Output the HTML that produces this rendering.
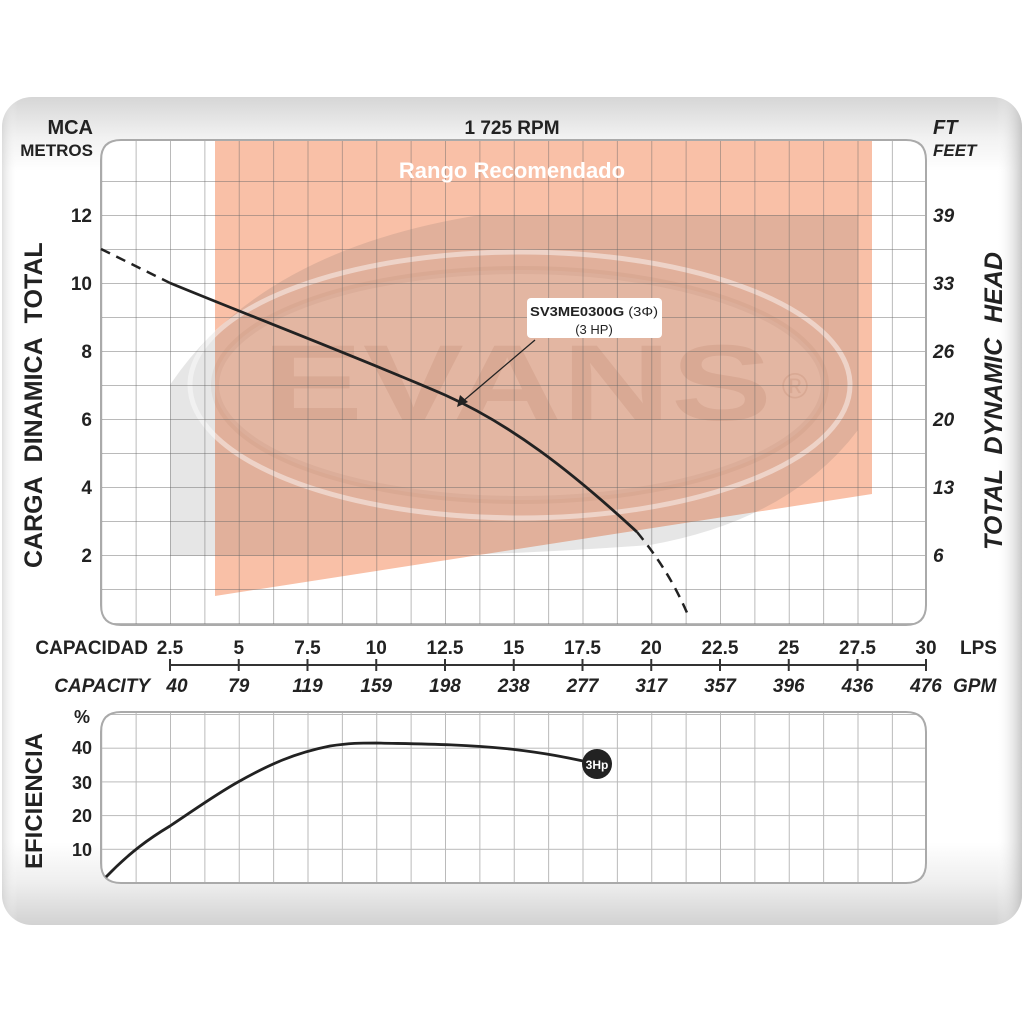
<!DOCTYPE html>
<html><head><meta charset="utf-8"><style>
html,body{margin:0;padding:0;background:#fff;}
svg{display:block;}
text{font-family:"Liberation Sans",Arial,sans-serif;}
</style></head><body>
<svg width="1024" height="1024" viewBox="0 0 1024 1024" xmlns="http://www.w3.org/2000/svg">
<defs>
<linearGradient id="bgv" x1="0" y1="0" x2="0" y2="1">
<stop offset="0" stop-color="#d6d6d6"/><stop offset="0.05" stop-color="#f2f2f2"/><stop offset="0.09" stop-color="#fff"/>
<stop offset="0.9" stop-color="#fff"/><stop offset="0.95" stop-color="#eeeeee"/><stop offset="1" stop-color="#d2d2d2"/>
</linearGradient>
<linearGradient id="bgh" x1="0" y1="0" x2="1" y2="0">
<stop offset="0" stop-color="#ccc" stop-opacity="0.6"/><stop offset="0.015" stop-color="#fff" stop-opacity="0"/>
<stop offset="0.975" stop-color="#fff" stop-opacity="0"/><stop offset="1" stop-color="#bbb" stop-opacity="0.8"/>
</linearGradient>
<pattern id="gv" patternUnits="userSpaceOnUse" x="101.25" y="0" width="34.375" height="100">
<path d="M0 0V100" stroke="#666" stroke-opacity="0.45" stroke-width="2" fill="none"/>
</pattern>
<pattern id="gh" patternUnits="userSpaceOnUse" x="0" y="623" width="100" height="34">
<path d="M0 0H100" stroke="#666" stroke-opacity="0.45" stroke-width="2" fill="none"/>
</pattern>
<pattern id="g2" patternUnits="userSpaceOnUse" x="101.25" y="882.5" width="34.375" height="33.7">
<path d="M0 0V34M0 0H34.375" stroke="#666" stroke-opacity="0.45" stroke-width="2" fill="none"/>
</pattern>
<clipPath id="c1"><path d="M121 140H906Q926 140 926 160V605Q926 625 906 625H121Q101 625 101 605V160Q101 140 121 140Z"/></clipPath>
<clipPath id="c2"><path d="M121 712H906Q926 712 926 732V863Q926 883 906 883H121Q101 883 101 863V732Q101 712 121 712Z"/></clipPath>
<clipPath id="wm"><rect x="170" y="215" width="688" height="341"/></clipPath>
</defs>
<rect x="2" y="97" width="1020" height="828" rx="30" fill="url(#bgv)"/>
<rect x="2" y="97" width="1020" height="828" rx="30" fill="url(#bgh)"/>

<g clip-path="url(#c1)">
<rect x="100" y="140" width="826" height="485" fill="#fff"/>
<path d="M215 140H872V494L215 596Z" fill="#f9c0a7"/>
<g clip-path="url(#wm)">
<path d="M170 556V385Q260 250 480 215H858V430Q790 520 650 545Q420 562 170 556Z" fill="#555" fill-opacity="0.15"/>
<ellipse cx="520" cy="385" rx="330" ry="133" fill="none" stroke="#fff" stroke-opacity="0.45" stroke-width="5"/>
<ellipse cx="520" cy="385" rx="305" ry="115" fill="#fff" fill-opacity="0.08"/>
<ellipse cx="520" cy="385" rx="305" ry="115" fill="none" stroke="#8a5a45" stroke-opacity="0.08" stroke-width="8"/>
<text x="262" y="420" textLength="510" lengthAdjust="spacingAndGlyphs" font-size="108" font-weight="bold" fill="#9a5a40" fill-opacity="0.14">EVANS</text>
<text x="795" y="398" text-anchor="middle" font-size="36" fill="#9a5a40" fill-opacity="0.14">®</text>
</g>
<rect x="100" y="140" width="826" height="485" fill="url(#gv)"/>
<rect x="100" y="160" width="826" height="465" fill="url(#gh)"/>
</g>
<path d="M121 140H906Q926 140 926 160V605Q926 625 906 625H121Q101 625 101 605V160Q101 140 121 140Z" fill="none" stroke="#aaa" stroke-width="2"/>
<text x="512" y="178" text-anchor="middle" font-size="22" font-weight="bold" fill="#fff">Rango Recomendado</text>

<path d="M101 249L170 283" stroke="#222" stroke-width="2.5" fill="none" stroke-dasharray="10,7"/>
<path d="M170 283C260 320 360 358 445 395C510 424 570 470 637 532" stroke="#222" stroke-width="2.8" fill="none"/>
<path d="M637 532C660 560 675 585 688 615" stroke="#222" stroke-width="2.5" fill="none" stroke-dasharray="10,7"/>
<line x1="535" y1="340" x2="462" y2="402" stroke="#222" stroke-width="1.3"/>
<path d="M457 407L460 395L468 402Z" fill="#222"/>
<rect x="527" y="298" width="135" height="40" rx="4" fill="#fff"/>
<text x="594" y="316" text-anchor="middle" font-size="13" fill="#222" textLength="128" lengthAdjust="spacingAndGlyphs"><tspan font-weight="bold">SV3ME0300G</tspan> (3Φ)</text>
<text x="594" y="334" text-anchor="middle" font-size="13" fill="#222">(3 HP)</text>

<g font-weight="bold" fill="#222">
<text x="93" y="134" text-anchor="end" font-size="20">MCA</text>
<text x="93" y="156" text-anchor="end" font-size="17">METROS</text>
<text x="512" y="134" text-anchor="middle" font-size="19">1 725 RPM</text>
<text x="933" y="134" font-size="20" font-style="italic">FT</text>
<text x="933" y="156" font-size="17" font-style="italic">FEET</text>
<g font-size="19" text-anchor="end">
<text x="92" y="222">12</text><text x="92" y="290">10</text><text x="92" y="358">8</text>
<text x="92" y="426">6</text><text x="92" y="494">4</text><text x="92" y="562">2</text>
</g>
<g font-size="19" font-style="italic">
<text x="933" y="222">39</text><text x="933" y="290">33</text><text x="933" y="358">26</text>
<text x="933" y="426">20</text><text x="933" y="494">13</text><text x="933" y="562">6</text>
</g>
<text transform="translate(42,568) rotate(-90)" font-size="25" word-spacing="8">CARGA  DINAMICA  TOTAL</text>
<text transform="translate(1002,550) rotate(-90)" font-size="25" font-style="italic" word-spacing="8">TOTAL  DYNAMIC  HEAD</text>
<text transform="translate(42,869) rotate(-90)" font-size="24">EFICIENCIA</text>

<text x="148" y="654" text-anchor="end" font-size="19">CAPACIDAD</text>
<text x="150" y="692" text-anchor="end" font-size="19" font-style="italic">CAPACITY</text>
<g font-size="19" text-anchor="middle">
<text x="170" y="654">2.5</text><text x="238.75" y="654">5</text><text x="307.5" y="654">7.5</text>
<text x="376.25" y="654">10</text><text x="445" y="654">12.5</text><text x="513.75" y="654">15</text>
<text x="582.5" y="654">17.5</text><text x="651.25" y="654">20</text><text x="720" y="654">22.5</text>
<text x="788.75" y="654">25</text><text x="857.5" y="654">27.5</text><text x="926" y="654">30</text>
</g>
<text x="960" y="654" font-size="19">LPS</text>
<g font-size="19" text-anchor="middle" font-style="italic">
<text x="177" y="692">40</text><text x="238.75" y="692">79</text><text x="307.5" y="692">119</text>
<text x="376.25" y="692">159</text><text x="445" y="692">198</text><text x="513.75" y="692">238</text>
<text x="582.5" y="692">277</text><text x="651.25" y="692">317</text><text x="720" y="692">357</text>
<text x="788.75" y="692">396</text><text x="857.5" y="692">436</text><text x="926" y="692">476</text>
</g>
<text x="953" y="692" font-size="19" font-style="italic">GPM</text>
<text x="90" y="723" text-anchor="end" font-size="18">%</text>
<g font-size="18" text-anchor="end">
<text x="92" y="754">40</text><text x="92" y="789">30</text><text x="92" y="822">20</text><text x="92" y="856">10</text>
</g>
</g>
<path d="M170 665H926M170 659V671M238.75 659V671M307.5 659V671M376.25 659V671M445 659V671M513.75 659V671M582.5 659V671M651.25 659V671M720 659V671M788.75 659V671M857.5 659V671M926 659V671" stroke="#333" stroke-width="2" fill="none"/>

<g clip-path="url(#c2)">
<rect x="100" y="712" width="826" height="171" fill="#fff"/>
<rect x="100" y="712" width="826" height="171" fill="url(#g2)"/>
</g>
<path d="M121 712H906Q926 712 926 732V863Q926 883 906 883H121Q101 883 101 863V732Q101 712 121 712Z" fill="none" stroke="#aaa" stroke-width="2"/>
<path d="M106 877C130 852 150 838 170 826C200 806 215 795 238 782C270 764 295 753 330 746C350 743 360 743 376 743C420 744 460 744 510 749C545 753 565 757 597 764" stroke="#222" stroke-width="2.8" fill="none"/>
<circle cx="597" cy="764" r="15" fill="#222"/>
<text x="597" y="769" text-anchor="middle" font-size="12" font-weight="bold" fill="#fff">3Hp</text>
</svg>
</body></html>
